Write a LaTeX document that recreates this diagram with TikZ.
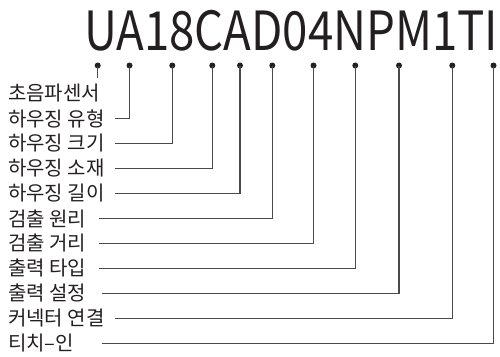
\documentclass[tikz,border=0pt]{standalone}
\usepackage{graphicx}
\usepackage{fontspec}
\setmainfont{Noto Sans CJK KR}
\newfontfamily\krfont{Noto Sans CJK KR}
\definecolor{ink}{HTML}{231F20}
\definecolor{wire}{HTML}{4A4A4A}
\begin{document}
\begin{tikzpicture}[x=1pt,y=-1pt,
  dot/.style={circle,fill=ink,inner sep=0pt,minimum size=6pt},
  lbl/.style={anchor=west,inner sep=0pt,text=ink,font=\krfont\fontsize{20}{20}\selectfont},
  wireline/.style={draw=wire,line width=1.2pt},
  title/.style={anchor=base west,inner sep=0pt,text=ink,font=\krfont\fontsize{54}{54}\selectfont}]
\useasboundingbox (0,0) rectangle (500,356);
\node[title] (code) at (84,50) {\resizebox{414pt}{\height}{UA18CAD04NPM1TI}};
% dots
\node[dot] (d1) at (97.7,65.5) {};
\node[dot] (d2) at (129.5,65.5) {};
\node[dot] (d3) at (172.3,65.5) {};
\node[dot] (d4) at (212.3,65.5) {};
\node[dot] (d5) at (240,65.5) {};
\node[dot] (d6) at (272.3,65.5) {};
\node[dot] (d7) at (313.5,65.5) {};
\node[dot] (d8) at (355.3,65.5) {};
\node[dot] (d9) at (399,65.5) {};
\node[dot] (d10) at (452.3,65.5) {};
\node[dot] (d11) at (493.5,65.5) {};
% labels
\node[lbl] (l1) at (8,93) {초음파센서};
\node[lbl] (l2) at (8,118.5) {하우징 유형};
\node[lbl] (l3) at (8,143.5) {하우징 크기};
\node[lbl] (l4) at (8,168.5) {하우징 소재};
\node[lbl] (l5) at (8,193.5) {하우징 길이};
\node[lbl] (l6) at (8,218.5) {검출 원리};
\node[lbl] (l7) at (8,243.3) {검출 거리};
\node[lbl] (l8) at (8,268.3) {출력 타입};
\node[lbl] (l9) at (8,293.3) {출력 설정};
\node[lbl] (l10) at (8,318.3) {커넥터 연결};
\node[lbl] (l11) at (8,343.3) {티치–인};
% line starts
\coordinate (t1) at (97.7,78);
\coordinate (s2) at (115,118.5);
\coordinate (s3) at (115,143.5);
\coordinate (s4) at (115,168.5);
\coordinate (s5) at (115,193.5);
\coordinate (s6) at (98.5,218.5);
\coordinate (s7) at (98.5,243.3);
\coordinate (s8) at (98.5,268.3);
\coordinate (s9) at (101.7,293.3);
\coordinate (s10) at (115,318.3);
\coordinate (s11) at (101.7,343.3);
% connectors
\draw[wireline] (d1.center) -- (t1);
\draw[wireline] (s2) -| (d2.center);
\draw[wireline] (s3) -| (d3.center);
\draw[wireline] (s4) -| (d4.center);
\draw[wireline] (s5) -| (d5.center);
\draw[wireline] (s6) -| (d6.center);
\draw[wireline] (s7) -| (d7.center);
\draw[wireline] (s8) -| (d8.center);
\draw[wireline] (s9) -| (d9.center);
\draw[wireline] (s10) -| (d10.center);
\draw[wireline] (s11) -| (d11.center);
\end{tikzpicture}
\end{document}
